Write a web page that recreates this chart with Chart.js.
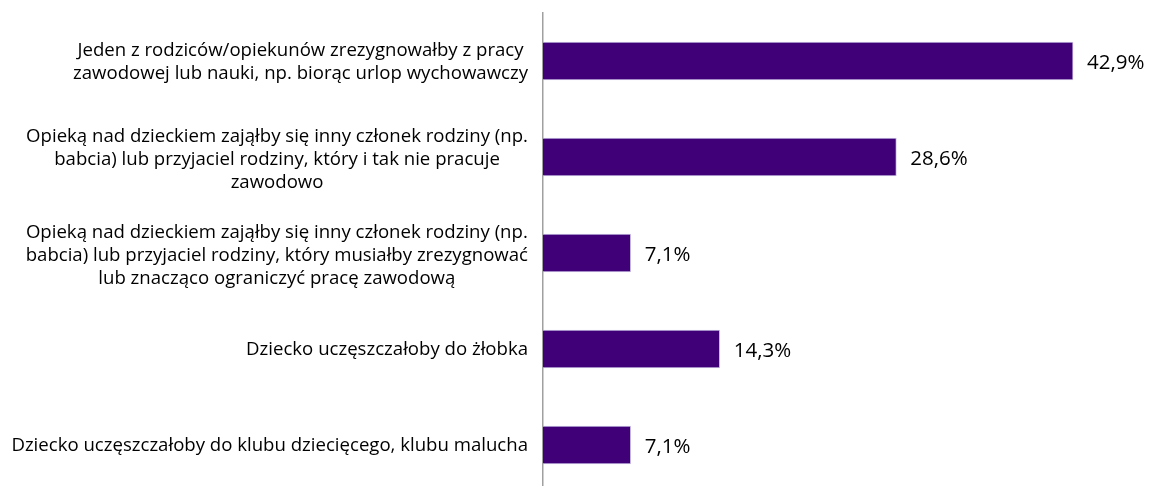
<!DOCTYPE html>
<html>
<head>
<meta charset="utf-8">
<script src="https://cdn.jsdelivr.net/npm/chart.js@4"></script>
<style>
  html, body { margin: 0; padding: 0; background: #fff; overflow: hidden; }
  #wrap { width: 1154px; height: 493px; position: relative; }
</style>
</head>
<body>
<div id="wrap"><canvas id="chart"></canvas></div>
<script>
var categories = [
	["Jeden z rodziców/opiekunów zrezygnowałby z pracy", "zawodowej lub nauki, np. biorąc urlop wychowawczy"],
	["Opieką nad dzieckiem zająłby się inny członek rodziny (np.", "babcia) lub przyjaciel rodziny, który i tak nie pracuje", "zawodowo"],
	["Opieką nad dzieckiem zająłby się inny członek rodziny (np.", "babcia) lub przyjaciel rodziny, który musiałby zrezygnować", "lub znacząco ograniczyć pracę zawodową"],
	["Dziecko uczęszczałoby do żłobka"],
	["Dziecko uczęszczałoby do klubu dziecięcego, klubu malucha"]
]
var values = [42.9, 28.6, 7.1, 14.3, 7.1]

var FONT = '18.6px "Open Sans"'
var VALUE_FONT = '20.5px "Open Sans"'

function fmt(v) {
	return v.toFixed(1).replace('.', ',') + '%'
}

// labels on the left: block right-aligned, lines centered inside the block
var leftLabels = {
	id: 'leftLabels',
	afterDraw: function (chart) {
		var ctx = chart.ctx
		var y = chart.scales.y
		var right = 528
		var lh = 23
		ctx.save()
		ctx.font = FONT
		ctx.fillStyle = '#000'
		ctx.textAlign = 'center'
		ctx.textBaseline = 'middle'
		categories.forEach(function (lines, i) {
			var w = 0
			lines.forEach(function (l) { w = Math.max(w, ctx.measureText(l).width) })
			var cx = right - w / 2
			var cy = y.getPixelForTick(i) + (lines.length > 2 ? 3 : 1)
			var top = cy - (lines.length - 1) * lh / 2
			lines.forEach(function (l, k) {
				ctx.fillText(l, cx, top + k * lh)
			})
		})
		ctx.restore()
	}
}

var valueLabels = {
	id: 'valueLabels',
	afterDatasetsDraw: function (chart) {
		var ctx = chart.ctx
		var meta = chart.getDatasetMeta(0)
		ctx.save()
		ctx.font = VALUE_FONT
		ctx.fillStyle = '#000'
		ctx.textAlign = 'left'
		ctx.textBaseline = 'middle'
		meta.data.forEach(function (bar, i) {
			ctx.fillText(fmt(values[i]), bar.x + 14, bar.y + 2)
		})
		ctx.restore()
	}
}

var chart = new Chart(document.getElementById('chart'), {
	type: 'bar',
	data: {
		labels: categories,
		datasets: [{
			data: values,
			backgroundColor: '#3f0078',
			borderColor: '#c9bfe0',
			borderWidth: { top: 1, bottom: 1, right: 1, left: 0 },
			barThickness: 38
		}]
	},
	options: {
		indexAxis: 'y',
		responsive: true,
		maintainAspectRatio: false,
		animation: false,
		events: [],
		layout: { padding: { left: 535, right: 55, top: 13, bottom: 0 } },
		plugins: {
			legend: { display: false },
			tooltip: { enabled: false }
		},
		scales: {
			x: {
				display: false,
				min: 0,
				max: 45
			},
			y: {
				grid: { display: false },
				ticks: { display: false },
				border: { display: true, color: '#a0a0a0', width: 1.5 }
			}
		}
	},
	plugins: [leftLabels, valueLabels]
})
</script>
</body>
</html>
